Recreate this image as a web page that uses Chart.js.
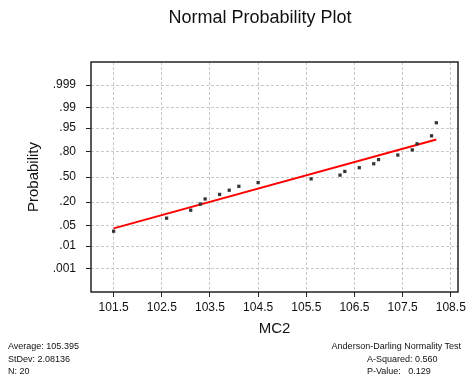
<!DOCTYPE html>
<html>
<head>
<meta charset="utf-8">
<script src="https://cdn.jsdelivr.net/npm/chart.js@4"></script>
<style>
  body { margin: 0; background: #fff; }
  #wrap { position: relative; width: 469px; height: 377px; font-family: "Liberation Sans", Arial, sans-serif; color: #111; }
  #wrap canvas { position: absolute; left: 0; top: 0; }
  .txt { position: absolute; white-space: pre; }
  .title { left: 0; width: 520px; top: 7px; text-align: center; font-size: 18px; line-height: 20px; }
  .stat { font-size: 9px; line-height: 12.5px; }
</style>
</head>
<body>
<div id="wrap">
  <canvas id="myChart" width="469" height="377"></canvas>
  <div class="txt title">Normal Probability Plot</div>
  <div class="txt stat" style="left:8px; top:340px;">Average: 105.395<br>StDev: 2.08136<br>N: 20</div>
  <div class="txt stat" style="right:8px; top:340px; text-align:right;">Anderson-Darling Normality Test</div>
  <div class="txt stat" style="left:367px; top:352.5px;">A-Squared: 0.560<br>P-Value:   0.129</div>
</div>
<script>
// sorted MC2 observations and their plotting positions (median ranks)
const mc2 = [101.5, 102.6, 103.1, 103.3, 103.4, 103.7, 103.9, 104.1, 104.5, 105.6,
             106.2, 106.3, 106.6, 106.9, 107.0, 107.4, 107.7, 107.8, 108.1, 108.2];
const probability = [0.034, 0.083, 0.132, 0.181, 0.230, 0.279, 0.328, 0.377, 0.426, 0.475,
                     0.525, 0.574, 0.623, 0.672, 0.721, 0.770, 0.819, 0.868, 0.917, 0.966];

// fitted normal line, end points
const fitX = [101.5, 108.2];
const fitP = [0.042, 0.896];

const xTicks = [101.5, 102.5, 103.5, 104.5, 105.5, 106.5, 107.5, 108.5];
const probTicks = [0.001, 0.01, 0.05, 0.20, 0.50, 0.80, 0.95, 0.99, 0.999];
const probLabels = ['.001', '.01', '.05', '.20', '.50', '.80', '.95', '.99', '.999'];

// inverse normal cdf (Acklam), used to put probabilities on the z scale
function probit(p) {
  const a = [-3.969683028665376e+01, 2.209460984245205e+02, -2.759285104469687e+02, 1.383577518672690e+02, -3.066479806614716e+01, 2.506628277386982e+00];
  const b = [-5.447609879822406e+01, 1.615858368580409e+02, -1.556989798598866e+02, 6.680131188771019e+01, -1.328068155288572e+01];
  const c = [-7.784894002430293e-03, -3.223964580411365e-01, -2.400758276161838e+00, -2.549732539343734e+00, 4.374664141464968e+00, 2.938163982698783e+00];
  const d = [7.784695709041462e-03, 3.224671290700398e-01, 2.445134137142996e+00, 3.754408661907416e+00];
  const pl = 0.02425;
  let q, r;
  if (p < pl) {
    q = Math.sqrt(-2 * Math.log(p));
    return (((((c[0]*q+c[1])*q+c[2])*q+c[3])*q+c[4])*q+c[5]) / ((((d[0]*q+d[1])*q+d[2])*q+d[3])*q+1);
  }
  if (p > 1 - pl) {
    q = Math.sqrt(-2 * Math.log(1 - p));
    return -(((((c[0]*q+c[1])*q+c[2])*q+c[3])*q+c[4])*q+c[5]) / ((((d[0]*q+d[1])*q+d[2])*q+d[3])*q+1);
  }
  q = p - 0.5; r = q * q;
  return (((((a[0]*r+a[1])*r+a[2])*r+a[3])*r+a[4])*r+a[5])*q / (((((b[0]*r+b[1])*r+b[2])*r+b[3])*r+b[4])*r+1);
}

const points = mc2.map((x, i) => ({x: x, y: probit(probability[i])}));
const fitLine = fitX.map((x, i) => ({x: x, y: probit(fitP[i])}));

// box around the plot area
const frame = {
  id: 'frame',
  afterDraw(chart) {
    const {ctx, chartArea: a} = chart;
    ctx.save();
    ctx.strokeStyle = '#222';
    ctx.lineWidth = 1.5;
    ctx.strokeRect(a.left, a.top, a.right - a.left, a.bottom - a.top);
    ctx.restore();
  }
};

const gridStyle = {color: '#c8c8c8', lineWidth: 1, tickColor: '#222', tickLength: 5};

new Chart(document.getElementById('myChart').getContext('2d'), {
  type: 'scatter',
  data: {
    datasets: [{
      label: 'fit',
      data: fitLine,
      showLine: true,
      borderColor: '#ff0000',
      borderWidth: 2,
      pointRadius: 0,
      order: 2
    }, {
      label: 'MC2',
      data: points,
      pointStyle: 'rect',
      pointRadius: 2.3,
      backgroundColor: '#333',
      borderColor: '#333',
      borderWidth: 0,
      order: 1
    }]
  },
  options: {
    responsive: false,
    animation: false,
    layout: {padding: {left: 0, top: 62, right: 10, bottom: 0}},
    plugins: {legend: {display: false}, tooltip: {enabled: false}},
    scales: {
      x: {
        type: 'linear',
        min: 101.03,
        max: 108.65,
        afterFit(s) { s.height = 85; },
        afterBuildTicks(s) { s.ticks = xTicks.map(v => ({value: v})); },
        grid: gridStyle,
        border: {display: false, dash: [3, 2]},
        ticks: {
          color: '#111',
          padding: 3,
          font: {family: 'Liberation Sans', size: 12},
          callback: v => v.toFixed(1)
        },
        title: {
          display: true,
          text: 'MC2',
          color: '#111',
          font: {family: 'Liberation Sans', size: 15},
          padding: {top: 0, bottom: 39}
        }
      },
      y: {
        type: 'linear',
        min: -3.87,
        max: 3.87,
        afterFit(s) { s.width = 91; },
        afterBuildTicks(s) { s.ticks = probTicks.map(p => ({value: probit(p)})); },
        grid: gridStyle,
        border: {display: false, dash: [3, 2]},
        ticks: {
          color: '#111',
          padding: 10,
          font: {family: 'Liberation Sans', size: 12},
          callback: (v, i) => probLabels[i]
        },
        title: {
          display: true,
          text: 'Probability',
          color: '#111',
          font: {family: 'Liberation Sans', size: 15},
          padding: {top: 25, bottom: 0}
        }
      }
    }
  },
  plugins: [frame]
});
</script>
</body>
</html>
